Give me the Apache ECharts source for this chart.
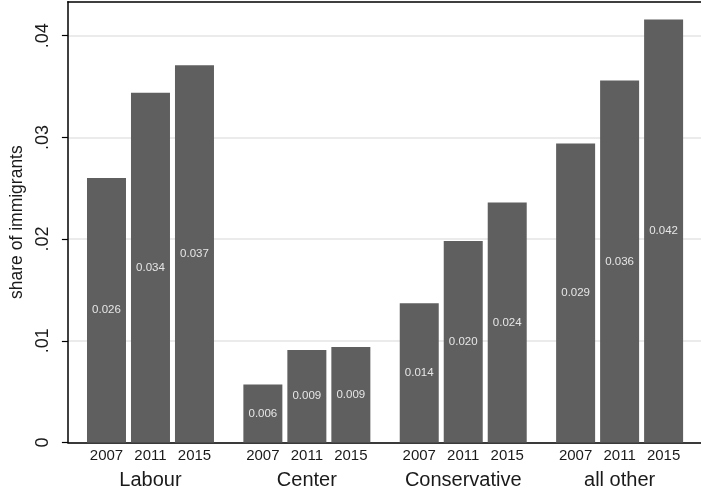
<!DOCTYPE html>
<html>
<head>
<meta charset="utf-8">
<script src="https://cdn.jsdelivr.net/npm/echarts@6/dist/echarts.min.js"></script>
<style>
  html, body { margin: 0; padding: 0; background: #ffffff; }
  #chart { width: 701px; height: 502px; }
</style>
</head>
<body>
<div id="chart"></div>
<script>
const groups = ['Labour', 'Center', 'Conservative', 'all other'];
const years = ['2007', '2011', '2015'];
const share2007 = [0.0260, 0.0057, 0.0137, 0.0294];
const share2011 = [0.0344, 0.0091, 0.0198, 0.0356];
const share2015 = [0.0371, 0.0094, 0.0236, 0.0416];
const yTickValues = [0, 0.01, 0.02, 0.03, 0.04];
const yTickLabels = ['0', '.01', '.02', '.03', '.04'];
const yTitle = 'share of immigrants';

const seriesValues = [share2007, share2011, share2015];
const FONT = 'Liberation Sans, Arial, sans-serif';
const Y_MAX = 0.04334;
const BAR_COLOR = '#5f5f5f';

const chart = echarts.init(document.getElementById('chart'), null, { renderer: 'canvas', width: 701, height: 502 });

const barSeries = years.map((yr, i) => ({
  name: yr,
  type: 'bar',
  xAxisIndex: 2,
  yAxisIndex: 1,
  barWidth: 39,
  barGap: '12.8%',
  data: seriesValues[i],
  itemStyle: { color: BAR_COLOR },
  label: {
    show: true,
    position: 'inside',
    color: '#e6e6e6',
    fontFamily: FONT,
    fontSize: 11.5,
    formatter: p => p.value.toFixed(3)
  },
  emphasis: { disabled: true },
  silent: true,
  z: 2
}));

const yearLabelSeries = years.map((yr, i) => ({
  name: yr + ' label',
  type: 'bar',
  xAxisIndex: 3,
  yAxisIndex: 1,
  barWidth: 39,
  barGap: '12.8%',
  data: seriesValues[i],
  itemStyle: { color: 'rgba(0,0,0,0)' },
  label: {
    show: true,
    position: 'bottom',
    distance: 6,
    color: '#1a1a1a',
    fontFamily: FONT,
    fontSize: 15,
    formatter: () => yr
  },
  emphasis: { disabled: true },
  silent: true,
  z: 3
}));

const option = {
  backgroundColor: '#ffffff',
  animation: false,
  grid: [
    { left: 61, right: 0, top: 1.7, bottom: 59.5, containLabel: false },
    { left: 72.3, right: 3.2, top: 1.7, bottom: 59.5, containLabel: false }
  ],
  xAxis: [
    { gridIndex: 0, type: 'value', position: 'bottom', min: 0, max: 1,
      axisLine: { show: true, lineStyle: { color: '#000', width: 1.5 } },
      axisTick: { show: false }, axisLabel: { show: false }, splitLine: { show: false } },
    { gridIndex: 0, type: 'value', position: 'top', min: 0, max: 1,
      axisLine: { show: true, lineStyle: { color: '#000', width: 1.5 } },
      axisTick: { show: false }, axisLabel: { show: false }, splitLine: { show: false } },
    { gridIndex: 1, type: 'category', data: groups, position: 'bottom',
      axisLine: { show: false }, axisTick: { show: false }, splitLine: { show: false },
      axisLabel: { show: true, margin: 28, color: '#1a1a1a', fontFamily: FONT, fontSize: 20 } },
    { gridIndex: 1, type: 'category', data: groups, show: false }
  ],
  yAxis: [
    { gridIndex: 0, type: 'value', min: 0, max: Y_MAX, interval: 0.01,
      name: yTitle, nameLocation: 'middle', nameRotate: 90, nameGap: 37,
      nameTextStyle: { color: '#1a1a1a', fontFamily: FONT, fontSize: 17.5 },
      axisLine: { show: true, lineStyle: { color: '#000', width: 1.5 } },
      axisTick: { show: true, length: 6, customValues: yTickValues, lineStyle: { color: '#000', width: 1.2 } },
      axisLabel: {
        show: true, rotate: 90, margin: 16, color: '#1a1a1a', fontFamily: FONT, fontSize: 18,
        customValues: yTickValues,
        formatter: v => {
          const idx = yTickValues.findIndex(t => Math.abs(t - v) < 1e-9);
          return idx >= 0 ? yTickLabels[idx] : '';
        }
      },
      splitLine: { show: true, lineStyle: { color: '#e4e4e4', width: 1.5 } }
    },
    { gridIndex: 1, type: 'value', min: 0, max: Y_MAX, show: false, splitLine: { show: false } }
  ],
  series: barSeries.concat(yearLabelSeries)
};

chart.setOption(option);
</script>
</body>
</html>
